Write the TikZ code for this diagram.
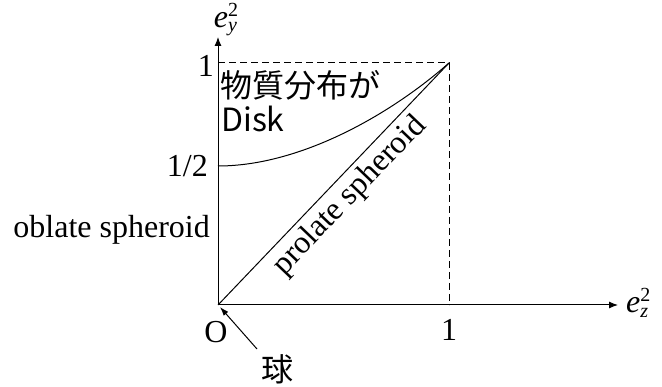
\documentclass[tikz,border=0pt]{standalone}
\usepackage{fontspec}
\setmainfont{Liberation Serif}
\newfontfamily\jpfont{Noto Sans CJK JP}
\usetikzlibrary{arrows.meta,calc}
\newcommand{\evar}[1]{\textit{e}\makebox[0pt][l]{\raisebox{-0.3ex}{\fontsize{20}{21}\selectfont\textit{#1}}}\raisebox{0.75ex}{\fontsize{20}{21}\selectfont 2}}
\begin{document}
\begin{tikzpicture}[x=1pt,y=-1pt,
  lbl/.style={inner sep=0pt,font=\fontsize{32}{36}\selectfont},
  jp/.style={inner sep=0pt,font=\jpfont\fontsize{32}{36}\selectfont},
  axis/.style={line width=1pt,-{Latex[length=9pt,width=7pt]}},
  ln/.style={line width=1pt},
  dsh/.style={line width=1pt,dash pattern=on 7pt off 4pt}]
\useasboundingbox (0,0) rectangle (662,387);
\coordinate (O) at (218,305);
\coordinate (Xend) at (618,305);
\coordinate (Yend) at (218,37);
\coordinate (P) at (449,63);
\coordinate (Ytop) at (218,63);
\coordinate (Xone) at (449,305);
\coordinate (H) at (218,166);
\coordinate (Otip) at (220,307);
\coordinate (Ktail) at (257,349);
\draw[axis] (O) -- (Xend);
\draw[axis] (O) -- (Yend);
\draw[dsh] (Ytop) -- (P) -- (Xone);
\draw[ln] (O) -- (P);
\draw[ln] (H) .. controls (300,166) and (390,115) .. (P);
\node[lbl,anchor=south] (ey) at (226,36) {\evar{y}};
\node[lbl,anchor=west] (ez) at (626,303) {\evar{z}};
\node[lbl,anchor=east] (one) at (214,66) {1};
\node[lbl,anchor=east] (half) at (208,166) {1/2};
\node[lbl,anchor=east] (obl) at (210,230) {oblate spheroid};
\node[lbl] (o) at (216,332) {O};
\node[lbl] (xone) at (449,330) {1};
\node[jp,anchor=west] (jp1) at (220,85) {物質分布が};
\node[jp,anchor=west] (disk) at (221,119) {Disk};
\node[jp] (kyu) at (277,369) {球};
\node[lbl,rotate=46.3] (pro) at (350,196) {prolate spheroid};
\draw[line width=1pt,-{Latex[length=9pt,width=6pt]}] (Ktail) -- (Otip);
\end{tikzpicture}
\end{document}
